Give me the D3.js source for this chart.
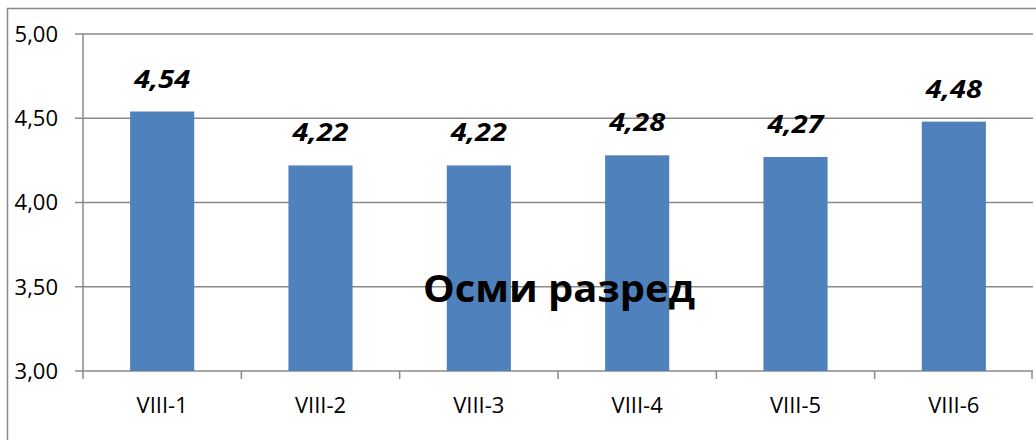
<!DOCTYPE html>
<html lang="sr">
<head>
<meta charset="UTF-8"/>
<title>Осми разред</title>
<script src="https://d3js.org/d3.v7.min.js"></script>
<style>
  body { margin: 0; background: #fff; }
  svg text { font-family: "Open Sans", "Noto Sans", sans-serif; }
</style>
</head>
<body>
<script>
    var categories = ["VIII-1", "VIII-2", "VIII-3", "VIII-4", "VIII-5", "VIII-6"];
    var values = [4.54, 4.22, 4.22, 4.28, 4.27, 4.48];
    var yTicks = [3.00, 3.50, 4.00, 4.50, 5.00];
    var title = "Осми разред";

    var W = 1036, H = 440;
    var margin = { top: 34, right: 3, bottom: 69, left: 83 };
    var w = W - margin.left - margin.right;
    var h = H - margin.top - margin.bottom;

    var fmt = function(d) { return d.toFixed(2).replace(".", ","); };

    var xScale = d3.scaleBand()
                   .domain(categories)
                   .range([0, w])
                   .paddingInner(0.595)
                   .paddingOuter(0.2975);

    var yScale = d3.scaleLinear()
                   .domain([3, 5])
                   .range([h, 0]);

    var svg = d3.select("body")
                .append("svg")
                .attr("width", W)
                .attr("height", H);

    // outer chart border
    svg.append("path")
       .attr("d", "M7.5," + H + "V8.5H" + W)
       .attr("fill", "none")
       .attr("stroke", "#888")
       .attr("stroke-width", 1.5);

    var g = svg.append("g")
               .attr("transform", "translate(" + margin.left + "," + margin.top + ")");

    // gridlines + y ticks
    g.selectAll(".grid")
     .data(yTicks)
     .enter()
     .append("line")
     .attr("x1", -8)
     .attr("x2", w)
     .attr("y1", function(d) { return yScale(d); })
     .attr("y2", function(d) { return yScale(d); })
     .attr("stroke", "#8a8a8a")
     .attr("stroke-width", 1.5);

    g.selectAll(".ylab")
     .data(yTicks)
     .enter()
     .append("text")
     .attr("x", -25)
     .attr("y", function(d) { return yScale(d); })
     .attr("dy", "0.36em")
     .attr("text-anchor", "end")
     .attr("font-size", 22)
     .attr("fill", "#000")
     .text(fmt);

    // bars
    g.selectAll("rect")
     .data(values)
     .enter()
     .append("rect")
     .attr("x", function(d, i) { return xScale(categories[i]); })
     .attr("y", function(d) { return yScale(d); })
     .attr("width", xScale.bandwidth())
     .attr("height", function(d) { return h - yScale(d); })
     .attr("fill", "#4f81bd");

    // value labels
    g.selectAll(".val")
     .data(values)
     .enter()
     .append("text")
     .attr("x", function(d, i) { return xScale(categories[i]) + xScale.bandwidth() / 2; })
     .attr("y", function(d) { return yScale(d) - 24; })
     .attr("text-anchor", "middle")
     .attr("font-size", 25)
     .attr("font-weight", "bold")
     .attr("font-style", "italic")
     .attr("fill", "#000")
     .attr("textLength", 56)
     .attr("lengthAdjust", "spacingAndGlyphs")
     .text(fmt);

    // axes lines
    g.append("line")
     .attr("x1", 0).attr("x2", 0)
     .attr("y1", 0).attr("y2", h)
     .attr("stroke", "#8a8a8a").attr("stroke-width", 1.5);

    var bounds = d3.range(categories.length + 1);
    g.selectAll(".xtick")
     .data(bounds)
     .enter()
     .append("line")
     .attr("x1", function(i) { return Math.min(i * w / categories.length, w - 1); })
     .attr("x2", function(i) { return Math.min(i * w / categories.length, w - 1); })
     .attr("y1", h)
     .attr("y2", h + 8)
     .attr("stroke", "#8a8a8a").attr("stroke-width", 1.5);

    g.selectAll(".xlab")
     .data(categories)
     .enter()
     .append("text")
     .attr("x", function(d) { return xScale(d) + xScale.bandwidth() / 2; })
     .attr("y", h + 42)
     .attr("text-anchor", "middle")
     .attr("font-size", 22)
     .attr("fill", "#000")
     .text(function(d) { return d; });

    // title inside plot
    svg.append("text")
       .attr("x", 559)
       .attr("y", 302)
       .attr("text-anchor", "middle")
       .attr("font-size", 38)
       .attr("font-weight", "bold")
       .attr("fill", "#000")
       .attr("textLength", 272)
       .attr("lengthAdjust", "spacingAndGlyphs")
       .text(title);
</script>
</body>
</html>
